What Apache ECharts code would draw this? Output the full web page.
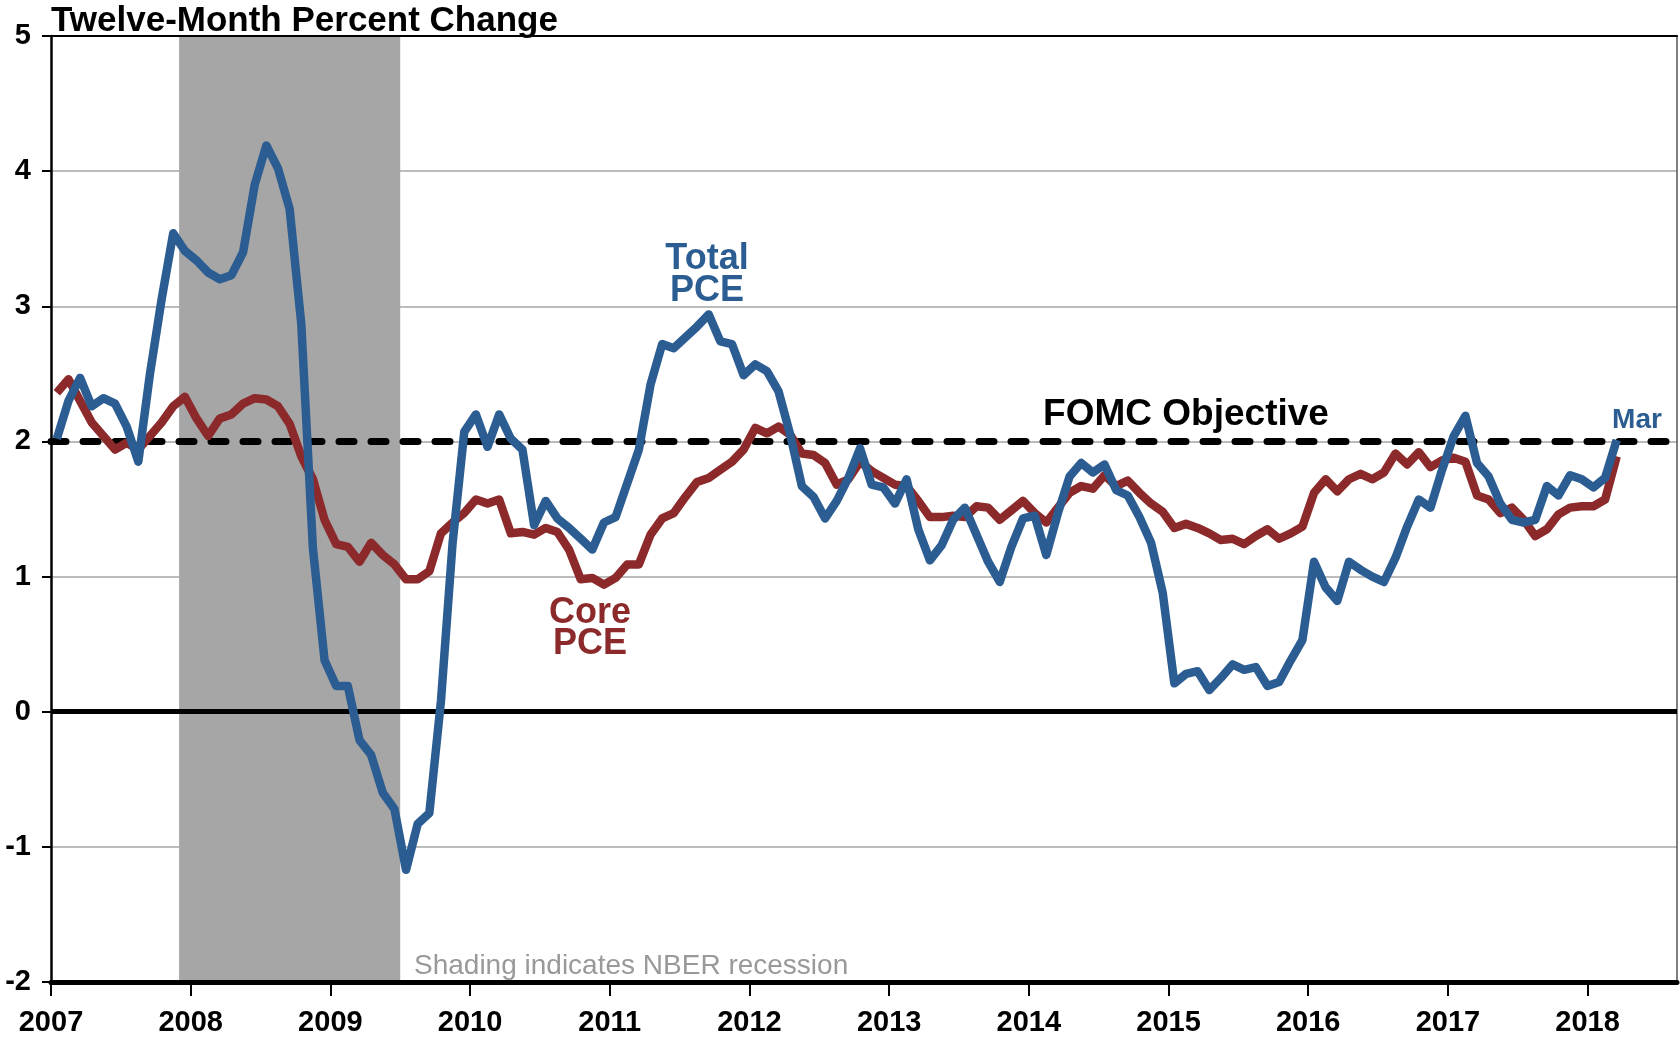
<!DOCTYPE html>
<html>
<head>
<meta charset="utf-8">
<script src="https://cdn.jsdelivr.net/npm/echarts@6/dist/echarts.min.js"></script>
<style>
  html, body { margin: 0; padding: 0; background: #fff; }
  #pce-chart { width: 1680px; height: 1038px; }
</style>
</head>
<body>
<div id="pce-chart"></div>
<script>
// monthly data, Jan 2007 .. Mar 2018
var startYear = 2007;
var tickYears = [2007, 2008, 2009, 2010, 2011, 2012, 2013, 2014, 2015, 2016, 2017, 2018];

var totalPce = [
  2.02, 2.30, 2.47, 2.26, 2.32, 2.28, 2.11, 1.85, 2.50, 3.05, 3.54, 3.41,  // 2007
  3.34, 3.25, 3.20, 3.23, 3.40, 3.90, 4.19, 4.02, 3.72, 2.87, 1.21, 0.38,  // 2008
  0.19, 0.19, -0.21, -0.32, -0.60, -0.72, -1.17, -0.83, -0.75, 0.08, 1.25, 2.07, // 2009
  2.20, 1.96, 2.20, 2.02, 1.94, 1.38, 1.56, 1.43, 1.36, 1.28, 1.20, 1.40,  // 2010
  1.44, 1.69, 1.94, 2.42, 2.72, 2.69, 2.77, 2.85, 2.94, 2.74, 2.72, 2.49,  // 2011
  2.57, 2.52, 2.37, 2.05, 1.67, 1.59, 1.43, 1.56, 1.73, 1.95, 1.68, 1.66,  // 2012
  1.54, 1.72, 1.35, 1.12, 1.23, 1.42, 1.51, 1.31, 1.11, 0.96, 1.22, 1.43,  // 2013
  1.45, 1.16, 1.47, 1.74, 1.84, 1.77, 1.83, 1.64, 1.60, 1.44, 1.25, 0.88,  // 2014
  0.21, 0.28, 0.30, 0.16, 0.25, 0.35, 0.31, 0.33, 0.19, 0.22, 0.38, 0.53,  // 2015
  1.11, 0.92, 0.82, 1.11, 1.05, 1.00, 0.96, 1.14, 1.37, 1.57, 1.51, 1.79,  // 2016
  2.04, 2.19, 1.84, 1.74, 1.54, 1.42, 1.40, 1.42, 1.67, 1.60, 1.75, 1.72,  // 2017
  1.66, 1.73, 2.01                                                         // 2018
];

var corePce = [
  2.36, 2.46, 2.30, 2.14, 2.04, 1.94, 1.99, 1.94, 2.04, 2.14, 2.26, 2.33,  // 2007
  2.17, 2.04, 2.17, 2.20, 2.28, 2.32, 2.31, 2.26, 2.13, 1.89, 1.72, 1.42,  // 2008
  1.24, 1.22, 1.11, 1.25, 1.16, 1.09, 0.98, 0.98, 1.04, 1.32, 1.40, 1.47,  // 2009
  1.57, 1.54, 1.57, 1.32, 1.33, 1.31, 1.36, 1.33, 1.20, 0.98, 0.99, 0.94,  // 2010
  0.99, 1.09, 1.09, 1.31, 1.43, 1.47, 1.59, 1.70, 1.73, 1.79, 1.85, 1.94,  // 2011
  2.10, 2.06, 2.11, 2.05, 1.91, 1.90, 1.84, 1.68, 1.72, 1.85, 1.78, 1.73,  // 2012
  1.68, 1.67, 1.56, 1.44, 1.44, 1.45, 1.44, 1.52, 1.51, 1.42, 1.49, 1.56,  // 2013
  1.47, 1.40, 1.51, 1.62, 1.67, 1.65, 1.75, 1.67, 1.71, 1.62, 1.54, 1.48,  // 2014
  1.36, 1.39, 1.36, 1.32, 1.27, 1.28, 1.24, 1.30, 1.35, 1.28, 1.32, 1.37,  // 2015
  1.62, 1.72, 1.63, 1.72, 1.76, 1.72, 1.77, 1.91, 1.83, 1.92, 1.81, 1.86,  // 2016
  1.88, 1.85, 1.60, 1.57, 1.47, 1.51, 1.42, 1.30, 1.35, 1.46, 1.51, 1.52,  // 2017
  1.52, 1.57, 1.89                                                         // 2018
];

var recession = [2007.917, 2009.5];   // Dec 2007 - Jun 2009
var fomcObjective = 2;
var xEnd = 2018.64;

var blue = '#2C5D92';
var red = '#8C2A2B';
var font = '"Liberation Sans", Arial, sans-serif';

// month i sits in the middle of its month
var toPoints = function (values) {
  return values.map(function (v, i) { return [startYear + (i + 0.5) / 12, v]; });
};

var chart = echarts.init(document.getElementById('pce-chart'));

var option = {
  animation: false,
  grid: { left: 51, right: 3, top: 36, bottom: 56, outerBoundsMode: 'none' },
  xAxis: [
    {
      type: 'value',
      min: startYear,
      max: xEnd,
      interval: 1,
      z: 3,
      axisLine: { show: true, onZero: false, lineStyle: { color: '#000', width: 5 } },
      axisTick: { show: true, inside: false, length: 14, customValues: tickYears, lineStyle: { color: '#000', width: 2 } },
      axisLabel: {
        customValues: tickYears,
        margin: 26,
        fontFamily: font, fontWeight: 'bold', fontSize: 29, color: '#000',
        formatter: function (v) { return Math.abs(v - Math.round(v)) < 1e-6 ? String(Math.round(v)) : ''; }
      },
      splitLine: { show: false }
    },
    {
      // top frame line
      type: 'value', position: 'top', min: startYear, max: xEnd, z: 3,
      axisLine: { show: true, onZero: false, lineStyle: { color: '#000', width: 2 } },
      axisTick: { show: false }, axisLabel: { show: false }, splitLine: { show: false }
    }
  ],
  yAxis: [
    {
      type: 'value',
      min: -2,
      max: 5,
      interval: 1,
      z: 3,
      axisLine: { show: true, onZero: false, lineStyle: { color: '#000', width: 2.5 } },
      axisTick: { show: true, inside: false, length: 9, lineStyle: { color: '#000', width: 2 } },
      axisLabel: {
        margin: 20,
        fontFamily: font, fontWeight: 'bold', fontSize: 29, color: '#000'
      },
      splitLine: { show: true, lineStyle: { color: '#A6A6A6', width: 1.5 } }
    },
    {
      // right frame line
      type: 'value', position: 'right', min: -2, max: 5, z: 3,
      axisLine: { show: true, onZero: false, lineStyle: { color: '#555', width: 1.5 } },
      axisTick: { show: false }, axisLabel: { show: false }, splitLine: { show: false }
    }
  ],
  series: [
    {
      // recession shading, zero line, FOMC objective
      name: 'refs',
      type: 'line',
      data: [],
      z: 1,
      silent: true,
      markArea: {
        silent: true,
        itemStyle: { color: '#A6A6A6', opacity: 1 },
        data: [[{ xAxis: recession[0] }, { xAxis: recession[1] }]]
      },
      markLine: {
        silent: true,
        symbol: 'none',
        label: { show: false },
        emphasis: { disabled: true },
        data: [
          { yAxis: 0, lineStyle: { color: '#000', width: 5, type: 'solid' } },
          { yAxis: fomcObjective, lineStyle: { color: '#000', width: 7, type: [15, 17], cap: 'round' } }
        ]
      }
    },
    {
      name: 'Core PCE',
      type: 'line',
      z: 10,
      data: toPoints(corePce),
      showSymbol: false,
      lineStyle: { color: red, width: 8.5, join: 'round' }
    },
    {
      name: 'Total PCE',
      type: 'line',
      z: 11,
      data: toPoints(totalPce),
      showSymbol: false,
      lineStyle: { color: blue, width: 8.5, join: 'round' }
    }
  ],
  graphic: [
    { type: 'rect', z: 1, silent: true, shape: { x: 627, y: 236, width: 163, height: 72 }, style: { fill: '#fff' } },
    { type: 'text', z: 100, x: 51, y: 21,
      style: { text: 'Twelve-Month Percent Change', font: 'bold 35px ' + font, fill: '#000', verticalAlign: 'middle' } },
    { type: 'text', z: 100, x: 707, y: 275,
      style: { text: 'Total\nPCE', font: 'bold 36px ' + font, lineHeight: 32, fill: blue, align: 'center', verticalAlign: 'middle' } },
    { type: 'text', z: 100, x: 590, y: 629,
      style: { text: 'Core\nPCE', font: 'bold 36px ' + font, lineHeight: 31, fill: red, align: 'center', verticalAlign: 'middle' } },
    { type: 'text', z: 100, x: 1186, y: 415,
      style: { text: 'FOMC Objective', font: 'bold 37px ' + font, fill: '#000', align: 'center', verticalAlign: 'middle' } },
    { type: 'text', z: 100, x: 1637, y: 420,
      style: { text: 'Mar', font: 'bold 28px ' + font, fill: blue, align: 'center', verticalAlign: 'middle' } },
    { type: 'text', z: 100, x: 414, y: 966,
      style: { text: 'Shading indicates NBER recession', font: '28px ' + font, fill: '#999999', verticalAlign: 'middle' } }
  ]
};

chart.setOption(option);
</script>
</body>
</html>
